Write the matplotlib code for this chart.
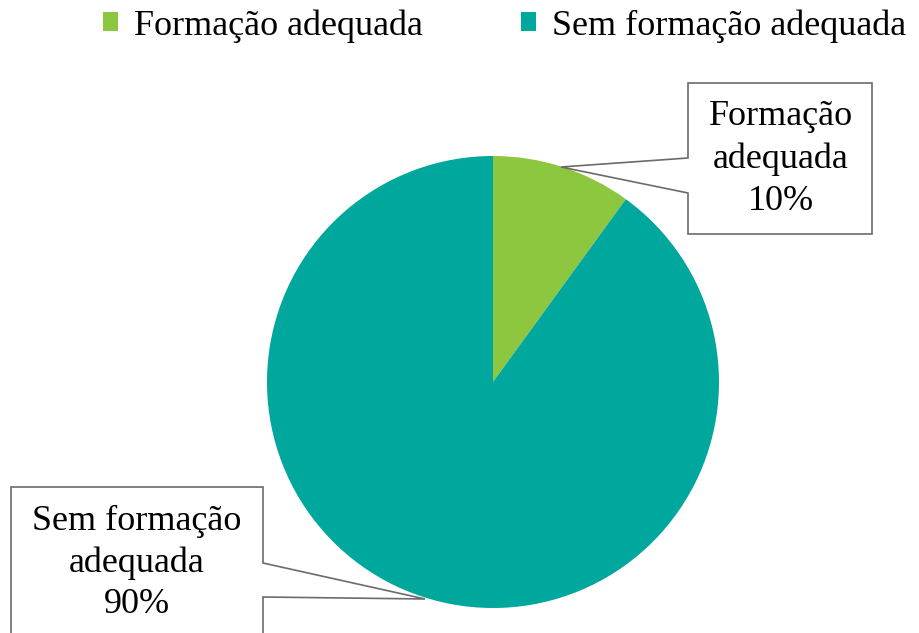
import matplotlib.pyplot as plt
from matplotlib.patches import Polygon

labels = ['Formação adequada', 'Sem formação adequada']
box_labels = ['Formação\nadequada', 'Sem formação\nadequada']
values = [10, 90]
colors = ['#8DC63F', '#00A79D']

plt.rcParams['font.family'] = ['Liberation Serif', 'DejaVu Serif']

fig = plt.figure(figsize=(9.19, 6.33), dpi=100)
ax = fig.add_axes([0, 0, 1, 1])

# pixel-like coordinates, y pointing down
wedges, _ = ax.pie(values, colors=colors, startangle=-90, counterclock=True,
                   center=(493, 382), radius=226,
                   wedgeprops=dict(linewidth=0))
ax.set_xlim(0, 919)
ax.set_ylim(633, 0)
ax.set_aspect('equal')
ax.axis('off')

total = sum(values)
edge = '#6b6b6b'

# callout for first slice (top right)
top = Polygon([(688, 83), (872, 83), (872, 234), (688, 234), (688, 193),
               (561, 167), (688, 158)], closed=True, facecolor='white',
              edgecolor=edge, linewidth=1.2, zorder=3)
ax.add_patch(top)
ax.text(781, 159, '%s\n%d%%' % (box_labels[0], round(100 * values[0] / total)),
        ha='center', va='center', fontsize=26, linespacing=1.38, zorder=4)

# callout for second slice (bottom left)
bot = Polygon([(11, 487), (263, 487), (263, 563), (425, 599), (263, 597),
               (263, 645), (11, 645)], closed=True, facecolor='white',
              edgecolor=edge, linewidth=1.2, zorder=3)
ax.add_patch(bot)
ax.text(137, 563, '%s\n%d%%' % (box_labels[1], round(100 * values[1] / total)),
        ha='center', va='center', fontsize=26, linespacing=1.33, zorder=4)

ax.legend(wedges, labels, loc='upper center', bbox_to_anchor=(0.549, 1.037),
          ncol=2, frameon=False, fontsize=26, handlelength=0.42,
          handleheight=0.42, handletextpad=0.45, columnspacing=2.7)

fig.savefig('out.png', dpi=100)
